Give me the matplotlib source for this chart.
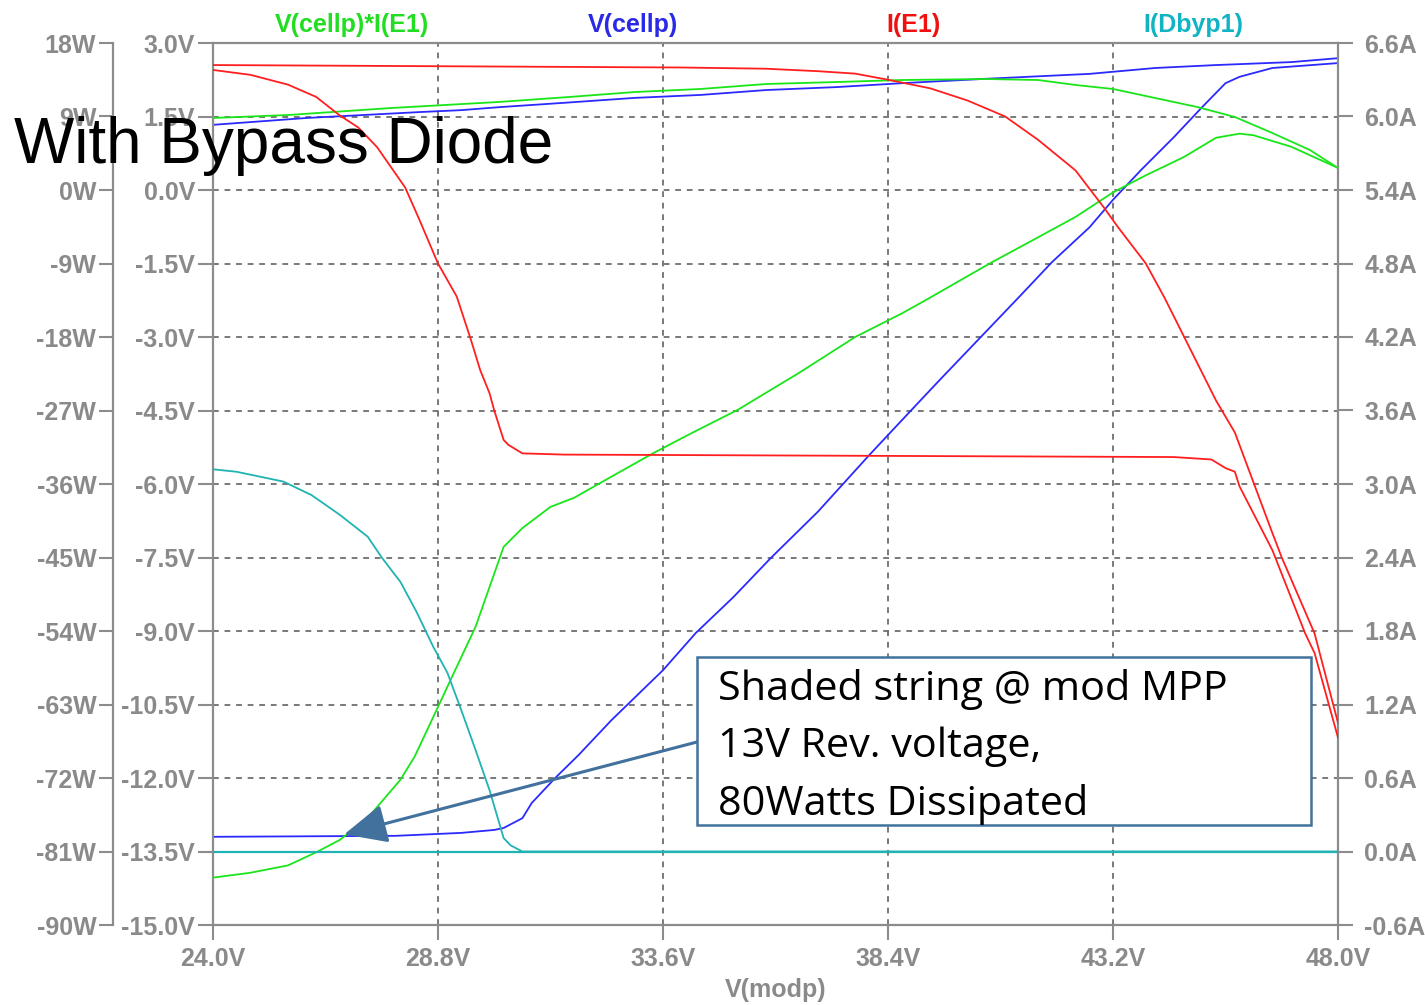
import matplotlib
matplotlib.use('Agg')
import matplotlib.pyplot as plt
from matplotlib.patches import Rectangle
from matplotlib.ticker import FuncFormatter

plt.rcParams['axes.unicode_minus'] = False
plt.rcParams['font.family'] = ['Liberation Sans', 'DejaVu Sans']

# ---------------- data ----------------
X_TICKS = [24.0, 28.8, 33.6, 38.4, 43.2, 48.0]
V_TICKS = [3.0, 1.5, 0.0, -1.5, -3.0, -4.5, -6.0, -7.5, -9.0, -10.5, -12.0, -13.5, -15.0]
W_TICKS = [18, 9, 0, -9, -18, -27, -36, -45, -54, -63, -72, -81, -90]
A_TICKS = [6.6, 6.0, 5.4, 4.8, 4.2, 3.6, 3.0, 2.4, 1.8, 1.2, 0.6, 0.0, -0.6]

TRACE_NAMES = ["V(cellp)*I(E1)", "V(cellp)", "I(E1)", "I(Dbyp1)"]
X_LABEL = "V(modp)"
TITLE = "With Bypass Diode"
ANNOT_LINES = ["Shaded string @ mod MPP", "13V Rev. voltage,", "80Watts Dissipated"]

# I(E1), run 1 (A)
x_red1 = [24.0, 34.0, 35.8, 36.9, 37.7, 38.4, 39.3, 40.1, 40.9, 41.6, 42.4, 43.0, 43.3,
          43.9, 44.3, 45.4, 45.8, 46.2, 46.6, 46.8, 47.5, 48.0]
i_red1 = [6.42, 6.40, 6.39, 6.37, 6.35, 6.30, 6.23, 6.13, 6.00, 5.81, 5.56, 5.26, 5.10,
          4.80, 4.52, 3.68, 3.42, 3.01, 2.60, 2.40, 1.78, 1.05]
# I(E1), run 2 (A)
x_red2 = [24.0, 24.8, 25.6, 26.2, 26.7, 27.1, 27.5, 28.1, 28.4, 28.8, 29.2, 29.5, 29.7,
          29.9, 30.0, 30.2, 30.3, 30.6, 31.5, 38.0, 44.5, 45.3, 45.6, 45.8, 45.9, 46.6,
          47.3, 47.5, 48.0]
i_red2 = [6.38, 6.34, 6.26, 6.16, 6.01, 5.91, 5.75, 5.42, 5.16, 4.80, 4.53, 4.18, 3.93,
          3.74, 3.60, 3.36, 3.32, 3.25, 3.24, 3.23, 3.22, 3.20, 3.13, 3.10, 2.98, 2.46,
          1.78, 1.62, 0.93]

# V(cellp), run 1 (V)
x_blue1 = [24.0, 26.0, 28.4, 29.3, 30.1, 31.5, 33.0, 34.4, 35.8, 37.3, 38.7, 40.5, 42.7,
           44.1, 45.4, 47.0, 48.0]
v_blue1 = [1.33, 1.47, 1.59, 1.63, 1.69, 1.78, 1.88, 1.94, 2.04, 2.10, 2.18, 2.27, 2.37,
           2.49, 2.55, 2.61, 2.69]
# V(cellp), run 2 (V)
x_blue2 = [24.0, 27.9, 29.3, 30.0, 30.2, 30.6, 30.8, 31.3, 31.8, 32.5, 33.6, 34.3, 35.1,
           35.9, 36.9, 38.0, 38.9, 39.5, 41.2, 41.9, 42.7, 43.2, 43.8, 44.5, 45.1, 45.6,
           45.9, 46.6, 48.0]
v_blue2 = [-13.20, -13.18, -13.12, -13.06, -13.02, -12.82, -12.51, -12.0, -11.53, -10.82,
           -9.80, -9.04, -8.31, -7.51, -6.57, -5.41, -4.49, -3.88, -2.18, -1.47, -0.76,
           -0.20, 0.41, 1.08, 1.69, 2.18, 2.31, 2.49, 2.59]

# V(cellp)*I(E1), run 1 (W)
x_green1 = [24.0, 25.6, 27.8, 30.1, 31.6, 33.0, 34.4, 35.8, 37.3, 38.7, 40.5, 41.6, 42.4,
            43.2, 45.0, 45.8, 46.6, 47.4, 48.0]
p_green1 = [8.82, 9.18, 10.04, 10.78, 11.39, 12.0, 12.37, 12.98, 13.22, 13.47, 13.59,
            13.47, 12.86, 12.37, 10.16, 8.94, 6.98, 4.90, 2.69]
# V(cellp)*I(E1), run 2 (W)
x_green2 = [24.0, 24.8, 25.6, 26.2, 26.7, 27.3, 28.0, 28.3, 28.8, 29.1, 29.6, 29.9, 30.2,
            30.6, 31.2, 31.7, 32.5, 33.4, 34.2, 35.2, 36.5, 37.7, 38.7, 39.2, 40.6, 41.6,
            42.4, 43.2, 43.9, 44.7, 45.4, 45.9, 46.2, 47.0, 48.0]
p_green2 = [-84.2, -83.6, -82.7, -81.1, -79.6, -76.9, -72.2, -69.4, -63.3, -59.6, -53.5,
            -48.6, -43.7, -41.4, -38.8, -37.7, -35.1, -32.2, -29.8, -26.9, -22.4, -18.0,
            -15.1, -13.5, -8.9, -5.8, -3.3, -0.3, 1.8, 4.0, 6.4, 6.9, 6.7, 5.3, 2.7]

# I(Dbyp1), run 1 and run 2 (A)
x_cyan1 = [24.0, 48.0]
i_cyan1 = [0.0, 0.0]
x_cyan2 = [24.0, 24.5, 25.5, 26.1, 26.7, 27.3, 27.6, 28.0, 28.35, 28.7, 29.0, 29.3, 29.6,
           29.9, 30.2, 30.35, 30.6, 48.0]
i_cyan2 = [3.12, 3.10, 3.02, 2.91, 2.75, 2.57, 2.40, 2.20, 1.95, 1.67, 1.46, 1.15, 0.83,
           0.50, 0.11, 0.05, 0.0, 0.0]

# ---------------- styles ----------------
C_GREEN = '#19e619'
C_BLUE = '#2a2aff'
C_RED = '#ff1f1f'
C_CYAN = '#1fb3b3'
C_AXIS = '#8c8c8c'
C_TICKTXT = '#8a8a8a'
C_NOTE = '#41719c'
LW = 1.3

W, H = 1425, 1005
fig = plt.figure(figsize=(W / 100, H / 100), dpi=100)
ax = fig.add_axes([213 / W, 80 / H, 1125 / W, 882 / H])
axW = ax.twinx()
axA = ax.twinx()

# main (V) axis
ax.set_xlim(24, 48)
ax.set_ylim(-15, 3)
ax.set_xticks(X_TICKS)
ax.set_yticks(V_TICKS)
ax.xaxis.set_major_formatter(FuncFormatter(lambda v, p: f"{v:.1f}V"))
ax.yaxis.set_major_formatter(FuncFormatter(lambda v, p: f"{v:.1f}V"))
ax.grid(True, color='#6e6e6e', linestyle=(0, (3.2, 3.2)), linewidth=1.3)
ax.set_axisbelow(True)
for s in ax.spines.values():
    s.set_color(C_AXIS)
    s.set_linewidth(1.6)
ax.tick_params(axis='both', direction='out', length=11, width=1.5, color=C_AXIS,
               labelcolor=C_TICKTXT, labelsize=18)
ax.tick_params(axis='y', pad=2)
ax.tick_params(axis='x', pad=5)
ax.set_xlabel(X_LABEL, fontsize=18, color=C_TICKTXT, labelpad=5, fontweight='bold')

# W axis (offset left)
axW.set_ylim(-90, 18)
axW.set_yticks(W_TICKS)
axW.yaxis.set_ticks_position('left')
axW.yaxis.set_major_formatter(FuncFormatter(lambda v, p: f"{v:.0f}W"))
for name, s in axW.spines.items():
    s.set_visible(name == 'left')
axW.spines['left'].set_position(('axes', -100 / 1125))
axW.spines['left'].set_color(C_AXIS)
axW.spines['left'].set_linewidth(1.6)
axW.tick_params(axis='y', direction='out', length=10, width=1.5, color=C_AXIS,
                labelcolor=C_TICKTXT, labelsize=18, pad=2)

# A axis (right)
axA.set_ylim(-0.6, 6.6)
axA.set_yticks(A_TICKS)
axA.yaxis.set_major_formatter(FuncFormatter(lambda v, p: f"{v:.1f}A"))
for s in axA.spines.values():
    s.set_visible(False)
axA.tick_params(axis='y', direction='out', length=11, width=1.5, color=C_AXIS,
                labelcolor=C_TICKTXT, labelsize=18, pad=8)

for a in (ax, axW, axA):
    for lab in a.get_xticklabels() + a.get_yticklabels():
        lab.set_fontweight('bold')

# curves
ax.plot(x_blue1, v_blue1, color=C_BLUE, lw=LW)
ax.plot(x_blue2, v_blue2, color=C_BLUE, lw=LW)
axW.plot(x_green1, p_green1, color=C_GREEN, lw=LW)
axW.plot(x_green2, p_green2, color=C_GREEN, lw=LW)
axA.plot(x_red1, i_red1, color=C_RED, lw=LW)
axA.plot(x_red2, i_red2, color=C_RED, lw=LW)
axA.plot(x_cyan1, i_cyan1, color=C_CYAN, lw=LW + 0.3)
axA.plot(x_cyan2, i_cyan2, color=C_CYAN, lw=LW)

# trace names on top
name_colors = ['#22dd22', '#2a2ae6', '#f01010', '#12b4c4']
name_x = [352, 633, 913, 1193]
for nm, col, xp in zip(TRACE_NAMES, name_colors, name_x):
    fig.text(xp / W, 1 - 32 / H, nm, color=col, fontsize=18, fontweight='bold',
             ha='center', va='baseline')

# title text
fig.text(14 / W, 1 - 163 / H, TITLE, fontsize=46, color='black', ha='left',
         va='baseline', zorder=10)

# annotation box + arrow
rect = Rectangle((697 / W, 1 - 825 / H), 614 / W, 168 / H, transform=fig.transFigure,
                 facecolor='white', edgecolor=C_NOTE, linewidth=1.8, zorder=5)
fig.add_artist(rect)
baselines = [700, 757, 815]
for line, yb in zip(ANNOT_LINES, baselines):
    fig.text(718 / W, 1 - yb / H, line, fontsize=29.8, family=['Open Sans', 'DejaVu Sans'],
             color='black', ha='left', va='baseline', zorder=6)

axA.annotate('', xy=(26.8, -13.15), xycoords=ax.transData,
             xytext=(697 / W, 1 - 742 / H), textcoords='figure fraction',
             arrowprops=dict(arrowstyle='-|>,head_length=1.2,head_width=0.55',
                             mutation_scale=22, color=C_NOTE, lw=2.2,
                             shrinkA=0, shrinkB=0),
             annotation_clip=False, zorder=7)

fig.savefig('out.png', dpi=100)
